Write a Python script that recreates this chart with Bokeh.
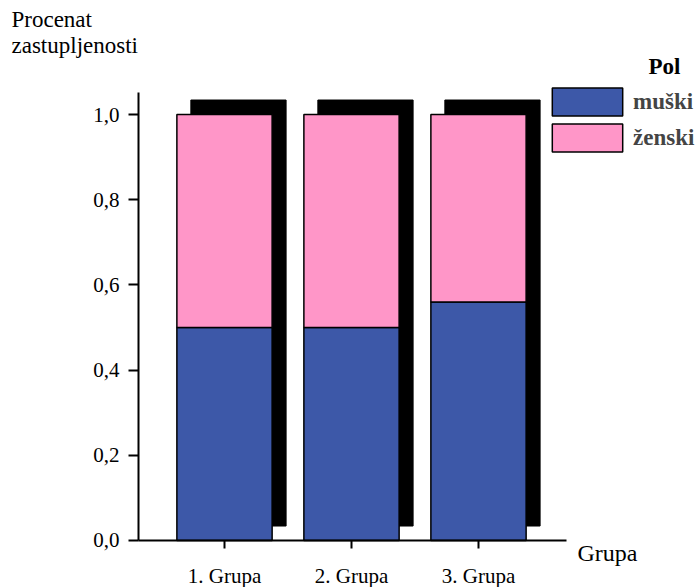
from bokeh.plotting import figure
from bokeh.models import FixedTicker, Label, Legend, LegendItem, Range1d
from bokeh.embed import file_html
from bokeh.resources import INLINE

categories = ["1. Grupa", "2. Grupa", "3. Grupa"]
muski = [0.50, 0.50, 0.56]
zenski = [0.50, 0.50, 0.44]
y_ticks = [0.0, 0.2, 0.4, 0.6, 0.8, 1.0]
y_tick_labels = ["0,0", "0,2", "0,4", "0,6", "0,8", "1,0"]

BLUE = "#3D58A8"
PINK = "#FF96C8"
FONT = "Liberation Serif"

xs = [i + 1 for i in range(len(categories))]
totals = [m + z for m, z in zip(muski, zenski)]

W, H = 700, 587
p = figure(width=W, height=H, output_backend="svg", toolbar_location=None,
           x_range=Range1d(-0.7638, 4.748), y_range=Range1d(-0.11033, 1.26761),
           min_border_left=0, min_border_right=0, min_border_top=0,
           min_border_bottom=0)
p.outline_line_color = None
p.xgrid.visible = False
p.ygrid.visible = False
p.background_fill_color = "white"
p.border_fill_color = "white"

# shadows
dx, dy = 0.11, 0.034
p.vbar(x=[x + dx for x in xs], width=0.75, bottom=[dy] * len(xs),
       top=[t + dy for t in totals], fill_color="black", line_color="black")

r_m = p.vbar(x=xs, width=0.75, bottom=[0] * len(xs), top=muski,
             fill_color=BLUE, line_color="black", line_width=1.5)
r_z = p.vbar(x=xs, width=0.75, bottom=muski, top=totals,
             fill_color=PINK, line_color="black", line_width=1.5)

xa, ya = p.xaxis[0], p.yaxis[0]
for ax in (xa, ya):
    ax.axis_line_width = 2
    ax.major_tick_line_width = 2
    ax.minor_tick_line_color = None
    ax.major_tick_in = 0
    ax.major_label_text_font = FONT
    ax.major_label_text_font_size = "21px"
    ax.major_label_text_color = "black"

xa.fixed_location = 0
xa.bounds = (0.3228, 3.693)
xa.ticker = FixedTicker(ticks=xs)
xa.major_label_overrides = {x: c for x, c in zip(xs, categories)}
xa.major_tick_out = 8
xa.major_label_standoff = 16

ya.fixed_location = 0.3228
ya.bounds = (0, 1.0516)
ya.ticker = FixedTicker(ticks=y_ticks)
ya.major_label_overrides = {t: l for t, l in zip(y_ticks, y_tick_labels)}
ya.major_tick_out = 10
ya.major_label_standoff = 9

def lab(text, px, py, size, style="normal"):
    p.add_layout(Label(x=px, y=H - py, x_units="screen", y_units="screen", text=text,
                       text_font=FONT, text_font_size=size, text_font_style=style,
                       text_baseline="alphabetic", text_color="black"))

lab("Procenat", 11, 19, "23px")
lab("zastupljenosti", 11, 45, "23px")
lab("Grupa", 577, 552, "24px")
lab("Pol", 648, 66, "23px", style="bold")

legend = Legend(items=[LegendItem(label="muški", renderers=[r_m]),
                       LegendItem(label="ženski", renderers=[r_z])],
                location=(543, H - 155), padding=0, margin=0, spacing=1,
                glyph_width=88, glyph_height=35, label_standoff=2,
                border_line_color=None, background_fill_alpha=0,
                label_text_font=FONT, label_text_font_size="23px",
                label_text_font_style="bold", label_height=35)
p.add_layout(legend)

open("out.html", "w").write(file_html(p, INLINE))
